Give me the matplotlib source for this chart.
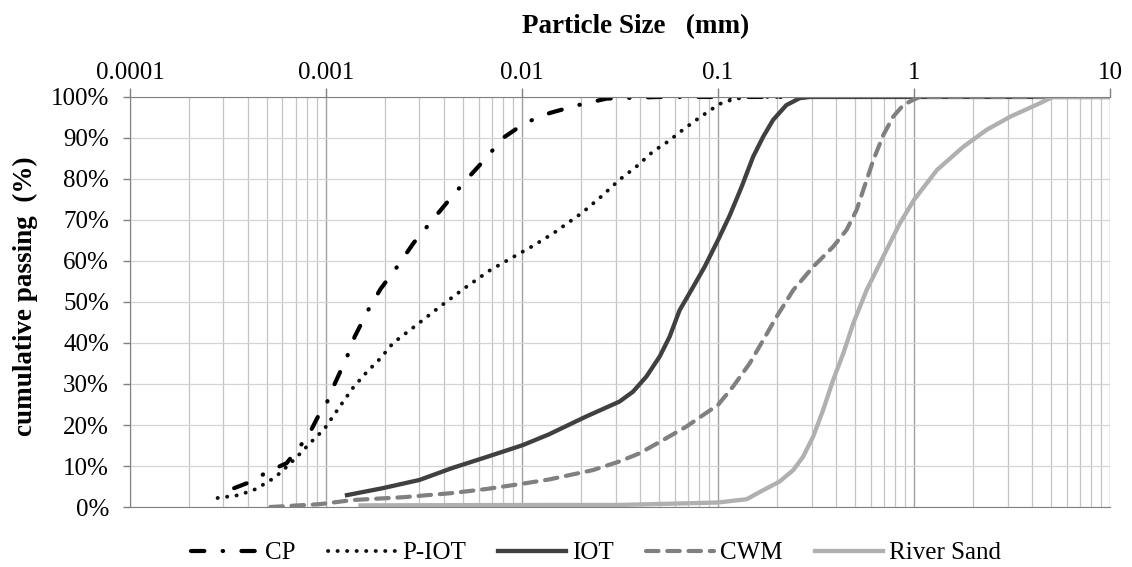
import numpy as np
import matplotlib
matplotlib.use("Agg")
import matplotlib.pyplot as plt

# particle size (mm) and cumulative passing (%)
cp_size = [0.00034, 0.00041, 0.0005, 0.00063, 0.00081, 0.00093, 0.001, 0.00109, 0.00128, 0.0014,
           0.00164, 0.0019, 0.0023, 0.0028, 0.0034, 0.0042, 0.0052, 0.0065, 0.008, 0.0104,
           0.0139, 0.0193, 0.027, 0.05, 0.25]
cp_pass = [4.6, 6.1, 8.5, 10.7, 17.3, 22.9, 24.9, 29.3, 36.6, 41.5,
           48.0, 53.2, 58.5, 64.4, 69.3, 74.6, 79.8, 84.9, 90.0, 93.7,
           96.1, 98.0, 99.6, 100, 100]

piot_size = [0.00028, 0.00036, 0.00044, 0.00054, 0.00059, 0.00071, 0.00083, 0.00098, 0.00118, 0.00137,
             0.0016, 0.0019, 0.0022, 0.0029, 0.0038, 0.0051, 0.0069, 0.0092, 0.0114, 0.0145,
             0.0202, 0.0255, 0.0314, 0.0383, 0.0466, 0.0555, 0.0662, 0.0775, 0.0889, 0.102,
             0.119, 0.14, 0.2]
piot_pass = [2.2, 2.9, 4.4, 7.0, 8.5, 12.2, 15.6, 19.0, 24.6, 29.0,
             32.7, 36.3, 40.0, 44.4, 48.8, 53.4, 57.8, 61.2, 63.7, 66.8,
             71.7, 75.8, 79.8, 83.0, 86.7, 89.1, 92.0, 94.4, 96.4, 98.3,
             99.4, 100, 100]

iot_size = [0.00128, 0.00195, 0.003, 0.0044, 0.0066, 0.0101, 0.0137, 0.0211, 0.0314, 0.0368,
            0.0431, 0.0504, 0.0566, 0.0637, 0.0731, 0.0855, 0.1, 0.115, 0.132, 0.151,
            0.170, 0.191, 0.223, 0.261, 0.294, 10]
iot_pass = [2.9, 4.6, 6.6, 9.5, 12.2, 15.1, 17.7, 22.0, 25.7, 28.1,
            31.8, 36.7, 41.5, 48.0, 52.9, 58.6, 65.1, 71.2, 78.1, 85.4,
            90.3, 94.4, 98.0, 99.7, 100, 100]

cwm_size = [0.00052, 0.00093, 0.00137, 0.0025, 0.0044, 0.0066, 0.0098, 0.0137, 0.023, 0.0314,
            0.0398, 0.0523, 0.0689, 0.0838, 0.1, 0.119, 0.145, 0.17, 0.199, 0.242,
            0.306, 0.387, 0.453, 0.509, 0.551, 0.62, 0.697, 0.783, 0.881, 0.99, 1.07, 10]
cwm_pass = [0.0, 0.7, 1.7, 2.4, 3.4, 4.4, 5.6, 6.7, 9.0, 11.1,
            13.1, 16.3, 19.6, 22.4, 24.9, 29.3, 35.0, 40.7, 46.4, 52.9,
            58.6, 63.5, 67.6, 72.4, 77.3, 84.6, 90.7, 95.2, 98.0, 99.3, 100, 100]

sand_size = [0.0015, 0.0137, 0.0314, 0.1, 0.14, 0.17, 0.206, 0.242, 0.272, 0.306,
             0.344, 0.387, 0.436, 0.49, 0.573, 0.697, 0.847, 1.0, 1.31, 1.79,
             2.35, 3.1, 4.4, 5.1, 10]
sand_pass = [0.4, 0.5, 0.5, 1.1, 1.9, 4.1, 6.2, 9.0, 12.3, 17.2,
             23.7, 31.0, 37.5, 44.8, 52.9, 61.1, 69.2, 74.9, 82.2, 87.9,
             92.0, 95.2, 98.5, 100, 100]

plt.rcParams['font.family'] = ['Liberation Serif', 'DejaVu Serif']

fig = plt.figure(figsize=(11.32, 5.67), dpi=100)
ax = fig.add_axes([0.1148, 0.1058, 0.8658, 0.7232])

ax.plot(cp_size, cp_pass, color='black', lw=3.0, linestyle=(0, (3.2, 4.4, 0.1, 4.4)),
        dash_capstyle='round', label='CP')
ax.plot(piot_size, piot_pass, color='#111111', lw=2.8, linestyle=(0, (0.05, 2.4)),
        dash_capstyle='round', label='P-IOT')
ax.plot(iot_size, iot_pass, color='#404040', lw=3.1, label='IOT')
ax.plot(cwm_size, cwm_pass, color='#808080', lw=3.0, linestyle=(0, (3.0, 2.1)),
        dash_capstyle='round', label='CWM')
ax.plot(sand_size, sand_pass, color='#b0b0b0', lw=3.1, label='River Sand')

ax.set_xscale('log')
ax.set_xlim(0.0001, 10)
ax.set_ylim(0, 100)
ax.set_yticks(np.arange(0, 101, 10))
ax.set_yticklabels([f'{v}%' for v in range(0, 101, 10)])
ax.set_xticks([0.0001, 0.001, 0.01, 0.1, 1, 10])
ax.set_xticklabels(['0.0001', '0.001', '0.01', '0.1', '1', '10'])

ax.xaxis.tick_top()
ax.tick_params(axis='both', which='minor', length=0)
ax.tick_params(axis='both', which='major', labelsize=18, color='#808080', width=1.0)
ax.tick_params(axis='x', which='major', length=6.5, pad=3)
ax.tick_params(axis='y', which='major', length=5, pad=10)

ax.grid(True, which='major', axis='x', color='#a0a0a0', lw=1.0)
ax.grid(True, which='minor', axis='x', color='#c4c4c4', lw=0.9)
ax.grid(True, which='major', axis='y', color='#d4d4d4', lw=0.9)
ax.set_axisbelow(True)

ax.spines['right'].set_visible(False)
for s in ['top', 'left', 'bottom']:
    ax.spines[s].set_color('#808080')

fig.text(636 / 1132, 1 - 33 / 567, 'Particle Size   (mm)', fontsize=19.5, fontweight='bold',
         ha='center', va='baseline')
fig.text(25 / 1132, 1 - 296 / 567, 'cumulative passing  (%)', fontsize=19.5, fontweight='bold',
         ha='center', va='center', rotation=90)

handles, labels = ax.get_legend_handles_labels()
fig.legend(handles, labels, loc='center', bbox_to_anchor=(596 / 1132, 1 - 553 / 567), ncol=5,
           frameon=False, fontsize=18, handlelength=2.7, handletextpad=0.25, columnspacing=1.3)

fig.savefig('out.png', dpi=100)
